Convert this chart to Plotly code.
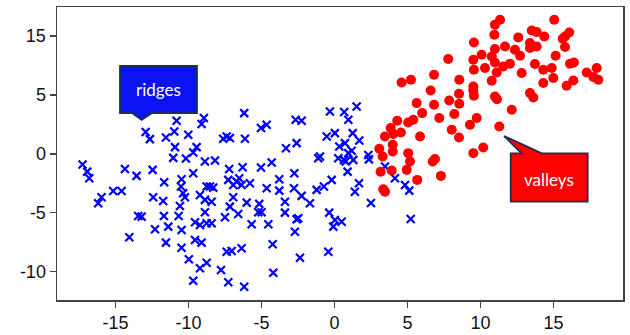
import plotly.graph_objects as go

# ---- data: ridges (blue x) ----
ridges_x = [-10.81, -8.94, -9.10, -12.93, -12.64, -11.54, -10.97, -10.01, -10.92, -9.44,
            -9.67, -11.04, -10.17, -8.87, -17.25, -16.93, -16.79, -14.35, -13.55, -12.45,
            -11.66, -9.67, -10.47, -10.51, -10.36, -15.15, -14.58, -15.95, -12.41, -9.21,
            -8.75, -16.18, -11.73, -10.58, -10.24, -8.87, -13.44, -13.21, -11.68, -10.67,
            -8.87, -9.55, -9.21, -8.75, -12.29, -11.38, -10.47, -14.05, -11.54, -10.47,
            -9.55, -9.10, -9.97, -9.21, -8.75, -9.67,
            -6.18, -0.31, 0.67, 1.52, 0.95, -5.03, -4.64, -2.66, -2.25, -7.38,
            -7.16, -7.62, -6.13, -0.53, 0.03, 1.25, 1.70, 0.72, 0.33, -3.32,
            -2.59, 1.18, 0.95, -0.99, -1.11, 0.26, 0.65, 1.29, 0.77, 2.32,
            2.36, -8.18, -7.21, -6.29, -5.03, -4.30, -2.75, 0.90, -7.27, -6.70,
            -6.52, -6.36, -5.79, -6.93, -3.78, -8.53, -8.30, -4.64, -3.78, -2.77,
            -1.22, -0.72, -0.19, 1.68, 1.40, -6.93, -2.25,
            -7.16, -6.01, -5.15, -3.39, -1.68, 2.50, -6.59, -7.50, -5.22, -4.99,
            -3.39, -2.59, -2.48, -0.36, 0.03, 0.49, -0.08, -5.67, -4.53, -2.71,
            -7.38, -7.04, -6.36, -4.23, -0.42, -2.36, -7.77, -4.19, -7.27, -6.18,
            -8.41, -8.41, 3.46, 4.14, 4.83, 5.12, 5.22]
ridges_y = [2.81, 3.04, 2.53, 1.85, 1.25, 1.39, 1.90, 1.62, 0.57, 0.57,
            0.11, -0.34, -0.40, -0.65, -0.91, -1.51, -2.07, -1.28, -1.87, -1.36,
            -2.41, -1.64, -2.15, -2.78, -3.34, -3.15, -3.15, -3.68, -3.68, -3.49,
            -2.78, -4.19, -4.00, -4.42, -3.68, -3.91, -5.27, -5.33, -5.27, -5.27,
            -4.96, -5.81, -6.04, -5.89, -6.40, -6.18, -6.46, -7.08, -7.54, -7.97,
            -7.31, -7.54, -8.95, -9.72, -9.24, -10.77,
            3.46, 3.60, 3.55, 4.02, 2.89, 2.19, 2.47, 2.89, 2.81, 1.47,
            1.34, 1.28, 1.28, 1.47, 1.76, 1.76, 1.13, 0.91, 0.62, 0.48,
            0.91, 0.26, 0.06, -0.23, -0.37, -0.37, -0.51, -0.51, -0.65, -0.09,
            -0.47, -0.57, -1.28, -1.13, -1.16, -0.74, -1.64, -1.51, -2.21, -2.36,
            -2.07, -2.64, -2.49, -2.64, -2.15, -2.78, -2.87, -2.92, -3.12, -2.92,
            -3.06, -2.78, -2.21, -2.49, -3.21, -3.68, -3.57,
            -4.48, -4.14, -4.25, -4.06, -4.19, -4.17, -5.10, -5.38, -4.96, -4.96,
            -4.99, -5.55, -5.47, -4.99, -5.61, -5.76, -6.18, -5.98, -5.98, -6.61,
            -8.31, -8.25, -8.02, -7.68, -8.31, -8.82, -9.86, -10.09, -10.91, -11.28,
            -4.06, -5.89, -1.08, -2.07, -2.64, -3.12, -5.53]

# ---- data: valleys (red dots) ----
valleys_x = [11.34, 10.99, 10.95, 9.55, 10.99, 7.79, 9.51, 10.08, 10.77, 10.99,
             10.31, 9.55, 11.11, 6.82, 4.60, 5.24, 8.55, 10.77, 6.59, 9.51,
             9.51, 9.55, 8.53, 10.99, 5.63, 6.82, 7.86, 8.55,
             15.05, 12.59, 13.51, 13.85, 14.37, 16.08, 15.79, 15.63, 11.68, 12.36,
             13.39, 13.85, 13.39, 12.71, 15.79, 15.15, 11.56, 12.02, 13.73, 14.30,
             14.88, 16.13, 16.40, 12.82, 14.99, 14.30, 15.90, 16.36, 17.27, 17.96,
             17.73, 18.07, 11.13, 13.39, 13.62, 12.14,
             6.01, 8.21, 7.18, 5.05, 5.40, 4.30, 9.74, 9.28, 3.85, 4.03,
             4.55, 3.46, 5.86, 8.03, 8.53, 11.29, 3.99, 3.99, 3.07, 5.05,
             3.30, 9.51, 10.19, 5.17, 6.88, 6.73, 3.16, 3.92, 4.95, 7.29,
             5.67, 3.34, 3.46]
valleys_y = [11.39, 10.97, 10.12, 9.46, 8.90, 8.05, 7.99, 8.42, 8.27, 7.76,
             7.29, 7.14, 6.91, 6.72, 6.06, 6.29, 6.29, 6.21, 5.38, 5.72,
             5.38, 4.93, 5.10, 4.87, 4.31, 4.17, 4.53, 4.25,
             11.39, 9.89, 10.48, 10.35, 9.97, 10.31, 9.97, 9.78, 9.12, 8.84,
             9.41, 9.12, 8.99, 8.33, 9.07, 8.33, 7.42, 7.65, 7.63, 7.14,
             7.29, 7.65, 7.76, 6.86, 6.44, 6.01, 5.78, 6.23, 6.91, 7.29,
             6.52, 6.29, 4.63, 5.16, 4.79, 3.74,
             3.46, 3.38, 3.04, 2.66, 2.89, 2.81, 3.04, 2.47, 2.19, 1.68,
             1.81, 1.47, 1.47, 2.04, 1.39, 2.32, 0.77, 0.20, 0.43, 0.06,
             -0.23, 0.06, 0.54, -0.65, -0.43, -0.65, -1.51, -1.42, -1.36, -1.87,
             -2.21, -3.00, -3.21]

y_tickvals = [-10, -5, 0, 5, 10]
y_ticktext = ["-10", "-5", "0", "5", "15"]
x_tickvals = [-15, -10, -5, 0, 5, 10, 15]
x_ticktext = ["-15", "-10", "-5", "0", "5", "10", "15"]

W, H = 630, 335
L, R, T, B = 57, 623, 7, 300


def px(xp, yp):
    return (xp - L) / (R - L), (B - yp) / (B - T)


def path(points):
    pts = [px(a, b) for a, b in points]
    return "M " + " L ".join(f"{a:.4f},{b:.4f}" for a, b in pts) + " Z"


fig = go.Figure()
fig.add_trace(go.Scatter(
    x=ridges_x, y=ridges_y, mode="markers", name="ridges",
    marker=dict(symbol="x-thin", size=8, color="#0000ff",
                line=dict(color="#0000ff", width=2.2)),
))
fig.add_trace(go.Scatter(
    x=valleys_x, y=valleys_y, mode="markers", name="valleys",
    marker=dict(symbol="circle", size=10, color="#ff0000",
                line=dict(width=0)),
))

border = "#1f3050"
fig.add_shape(type="path", xref="paper", yref="paper",
              path=path([(120, 66), (197, 66), (197, 113), (152, 113),
                         (141.7, 120), (132, 113), (120, 113)]),
              fillcolor="#0a14f0", line=dict(color=border, width=1.8), layer="above")
fig.add_shape(type="path", xref="paper", yref="paper",
              path=path([(510.7, 153.3), (521.7, 153.3), (504, 136), (541.7, 153.3),
                         (587.7, 153.3), (587.7, 201.7), (510.7, 201.7)]),
              fillcolor="#ff0000", line=dict(color=border, width=1.8), layer="above")

ax, ay = px(158.5, 89.5)
fig.add_annotation(x=ax, y=ay, xref="paper", yref="paper", text="ridges",
                   xanchor="center", yanchor="middle",
                   showarrow=False, font=dict(family="Lato", size=17, color="white"))
bx, by = px(549, 179)
fig.add_annotation(x=bx, y=by, xref="paper", yref="paper", text="valleys",
                   xanchor="center", yanchor="middle",
                   showarrow=False, font=dict(family="Lato", size=17, color="white"))

axis_style = dict(showgrid=False, zeroline=False, showline=True, mirror=True,
                  linecolor="#444444", linewidth=1.5, ticks="outside",
                  ticklen=6, tickwidth=1.5, tickcolor="#444444", automargin=False,
                  tickfont=dict(family="Liberation Sans, Arial", size=18, color="#111111"))

fig.update_xaxes(range=[-19.0, 19.76], tickvals=x_tickvals, ticktext=x_ticktext, **axis_style)
fig.update_yaxes(range=[-12.41, 12.47], tickvals=y_tickvals, ticktext=y_ticktext, **axis_style)

fig.update_layout(
    width=W, height=H,
    margin=dict(l=L, r=W - R, t=T, b=H - B, pad=0, autoexpand=False),
    paper_bgcolor="white", plot_bgcolor="white",
    showlegend=False, hovermode=False,
)

fig.write_html(
    "out.html",
    config={"displayModeBar": False, "staticPlot": True},
    post_script="document.body.style.margin='0';document.body.style.padding='0';"
                "document.documentElement.style.overflow='hidden';",
)
